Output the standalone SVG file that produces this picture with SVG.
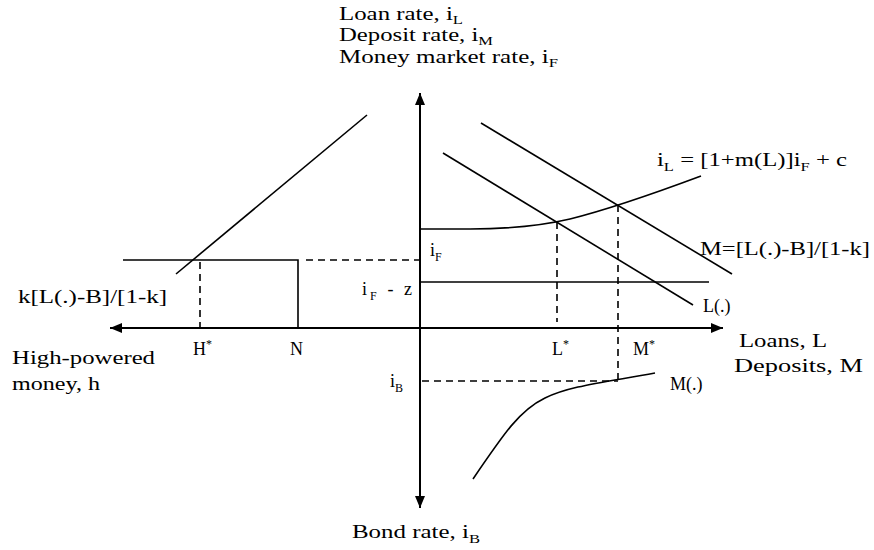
<svg xmlns="http://www.w3.org/2000/svg" width="874" height="550" viewBox="0 0 874 550">
<style>
text{font-family:"Liberation Serif","Times New Roman",serif;font-size:18px;fill:#000}
.sub{font-size:12px}
.ln{stroke:#000;stroke-width:1.6;fill:none}
.ax{stroke:#000;stroke-width:2;fill:none}
.dash{stroke:#000;stroke-width:1.6;fill:none;stroke-dasharray:7,5}
</style>
<defs>
<marker id="arr" markerUnits="userSpaceOnUse" markerWidth="12" markerHeight="10" refX="12" refY="5" orient="auto">
<path d="M0,0 L12,5 L0,10 z" fill="#000"/>
</marker>
</defs>
<rect width="874" height="550" fill="#fff"/>
<g id="axes">
<line class="ax" x1="420" y1="328" x2="420" y2="93" marker-end="url(#arr)"/>
<line class="ax" x1="420" y1="328" x2="420" y2="508" marker-end="url(#arr)"/>
<line class="ax" x1="420" y1="328" x2="723" y2="328" marker-end="url(#arr)"/>
<line class="ax" x1="420" y1="328" x2="110" y2="328" marker-end="url(#arr)"/>
</g>
<g id="connectors">
<line class="ln" x1="367" y1="115" x2="176" y2="274"/>
<polyline class="ln" points="123,260 298,260 298,328"/>
<line class="dash" x1="200" y1="262" x2="200" y2="328"/>
<line class="dash" x1="306" y1="260" x2="420" y2="260"/>
<line class="ln" x1="420" y1="282" x2="709" y2="282"/>
<path class="ln" d="M420,229 L470,229 C510,229 540,226 570,219 C610,209 650,195 701,176"/>
<line class="ln" x1="443" y1="153" x2="693" y2="305"/>
<line class="ln" x1="481" y1="123" x2="732" y2="274"/>
<line class="dash" x1="557" y1="222" x2="557" y2="322"/>
<line class="dash" x1="618" y1="205" x2="618" y2="381"/>
<line class="dash" x1="422" y1="381" x2="618" y2="381"/>
<path class="ln" d="M473,479 C505,432 520,410 545,398 S600,383 655,373"/>
</g>
<g id="labels">
<text x="339" y="20" textLength="124" lengthAdjust="spacingAndGlyphs">Loan rate, i<tspan class="sub" dy="4">L</tspan></text>
<text x="339" y="41" textLength="154" lengthAdjust="spacingAndGlyphs">Deposit rate, i<tspan class="sub" dy="4">M</tspan></text>
<text x="339" y="63" textLength="219" lengthAdjust="spacingAndGlyphs">Money market rate, i<tspan class="sub" dy="4">F</tspan></text>
<text x="657" y="166" textLength="190" lengthAdjust="spacingAndGlyphs">i<tspan class="sub" dy="5">L</tspan><tspan dy="-5"> = [1+m(L)]i</tspan><tspan class="sub" dy="5">F</tspan><tspan dy="-5"> + c</tspan></text>
<text x="700" y="255" textLength="170" lengthAdjust="spacingAndGlyphs">M=[L(.)-B]/[1-k]</text>
<text x="703" y="312">L(.)</text>
<text x="739" y="347" textLength="88" lengthAdjust="spacingAndGlyphs">Loans, L</text>
<text x="734" y="372" textLength="129" lengthAdjust="spacingAndGlyphs">Deposits, M</text>
<text x="552" y="355">L<tspan class="sub" dy="-7">*</tspan></text>
<text x="633" y="355">M<tspan class="sub" dy="-7">*</tspan></text>
<text x="670" y="390">M(.)</text>
<text x="430" y="256">i<tspan class="sub" dy="5">F</tspan></text>
<text x="362" y="295" textLength="50" lengthAdjust="spacing">i<tspan class="sub" dy="5">F</tspan><tspan dy="-5"> - z</tspan></text>
<text x="18" y="303" textLength="149" lengthAdjust="spacingAndGlyphs">k[L(.)-B]/[1-k]</text>
<text x="193" y="355">H<tspan class="sub" dy="-7">*</tspan></text>
<text x="290" y="355">N</text>
<text x="12" y="364" textLength="143" lengthAdjust="spacingAndGlyphs">High-powered</text>
<text x="12" y="390" textLength="88" lengthAdjust="spacingAndGlyphs">money, h</text>
<text x="390" y="387">i<tspan class="sub" dy="5">B</tspan></text>
<text x="352" y="538" textLength="128" lengthAdjust="spacingAndGlyphs">Bond rate, i<tspan class="sub" dy="5">B</tspan></text>
</g>
</svg>
